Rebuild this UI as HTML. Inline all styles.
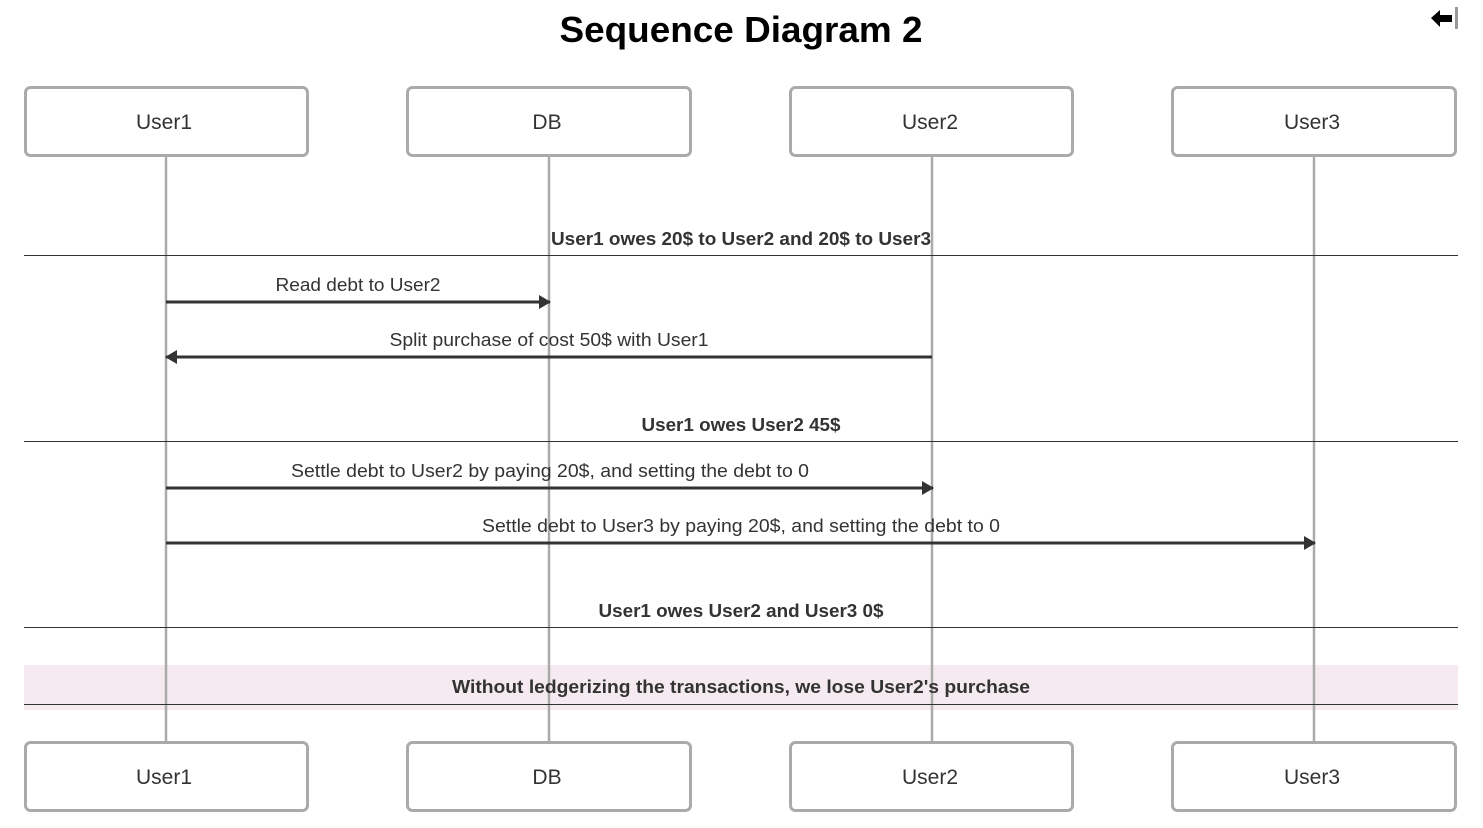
<!DOCTYPE html>
<html><head><meta charset="utf-8"><style>
html,body{margin:0;padding:0;background:#fff;width:1483px;height:828px;overflow:hidden}
svg{display:block}
text{font-family:"Liberation Sans",sans-serif;fill:#333}
</style></head><body>
<svg width="1483" height="828" viewBox="0 0 1483 828" xmlns="http://www.w3.org/2000/svg">
<defs>
<marker id="ah" markerWidth="12" markerHeight="14" refX="11" refY="7" orient="auto" markerUnits="userSpaceOnUse">
<path d="M0,0 L12,7 L0,14 Z" fill="#333"/>
</marker>
</defs>
<text x="741" y="42" text-anchor="middle" font-size="36" font-weight="bold" style="fill:#000" textLength="363" lengthAdjust="spacingAndGlyphs">Sequence Diagram 2</text>
<path d="M1431,18 L1440,10 L1440,15 L1452,15 L1452,22 L1440,22 L1440,27 Z" fill="#000"/>
<rect x="1455" y="7" width="3" height="22" fill="#999"/>

<rect x="24" y="665" width="1434" height="45" fill="#f5eaf0"/>

<g stroke="#aaa" stroke-width="2.5">
<line x1="166" y1="156" x2="166" y2="742"/>
<line x1="549" y1="156" x2="549" y2="742"/>
<line x1="932" y1="156" x2="932" y2="742"/>
<line x1="1314" y1="156" x2="1314" y2="742"/>
</g>

<g stroke="#333" stroke-width="1">
<line x1="24" y1="255.5" x2="1458" y2="255.5"/>
<line x1="24" y1="441.5" x2="1458" y2="441.5"/>
<line x1="24" y1="627.5" x2="1458" y2="627.5"/>
<line x1="24" y1="704.5" x2="1458" y2="704.5"/>
</g>

<g font-weight="bold" font-size="18" text-anchor="middle">
<text x="741" y="245" textLength="380" lengthAdjust="spacingAndGlyphs">User1 owes 20$ to User2 and 20$ to User3</text>
<text x="741" y="431" textLength="199" lengthAdjust="spacingAndGlyphs">User1 owes User2 45$</text>
<text x="741" y="617" textLength="285" lengthAdjust="spacingAndGlyphs">User1 owes User2 and User3 0$</text>
<text x="741" y="693" textLength="578" lengthAdjust="spacingAndGlyphs">Without ledgerizing the transactions, we lose User2's purchase</text>
</g>

<g stroke="#333" stroke-width="3" marker-end="url(#ah)">
<line x1="166" y1="302" x2="550" y2="302"/>
<line x1="932" y1="357" x2="166" y2="357"/>
<line x1="166" y1="488" x2="933" y2="488"/>
<line x1="166" y1="543" x2="1315" y2="543"/>
</g>
<g font-size="18" text-anchor="middle">
<text x="358" y="291" textLength="165" lengthAdjust="spacingAndGlyphs">Read debt to User2</text>
<text x="549" y="346" textLength="319" lengthAdjust="spacingAndGlyphs">Split purchase of cost 50$ with User1</text>
<text x="550" y="477" textLength="518" lengthAdjust="spacingAndGlyphs">Settle debt to User2 by paying 20$, and setting the debt to 0</text>
<text x="741" y="532" textLength="518" lengthAdjust="spacingAndGlyphs">Settle debt to User3 by paying 20$, and setting the debt to 0</text>
</g>

<g fill="#fff" stroke="#aaa" stroke-width="3">
<rect x="25.5" y="87.5" width="282" height="68" rx="5"/>
<rect x="407.5" y="87.5" width="283" height="68" rx="5"/>
<rect x="790.5" y="87.5" width="282" height="68" rx="5"/>
<rect x="1172.5" y="87.5" width="283" height="68" rx="5"/>
<rect x="25.5" y="742.5" width="282" height="68" rx="5"/>
<rect x="407.5" y="742.5" width="283" height="68" rx="5"/>
<rect x="790.5" y="742.5" width="282" height="68" rx="5"/>
<rect x="1172.5" y="742.5" width="283" height="68" rx="5"/>
</g>
<g font-size="21" text-anchor="middle">
<text x="164" y="129">User1</text>
<text x="547" y="129">DB</text>
<text x="930" y="129">User2</text>
<text x="1312" y="129">User3</text>
<text x="164" y="784">User1</text>
<text x="547" y="784">DB</text>
<text x="930" y="784">User2</text>
<text x="1312" y="784">User3</text>
</g>
</svg>
</body></html>
